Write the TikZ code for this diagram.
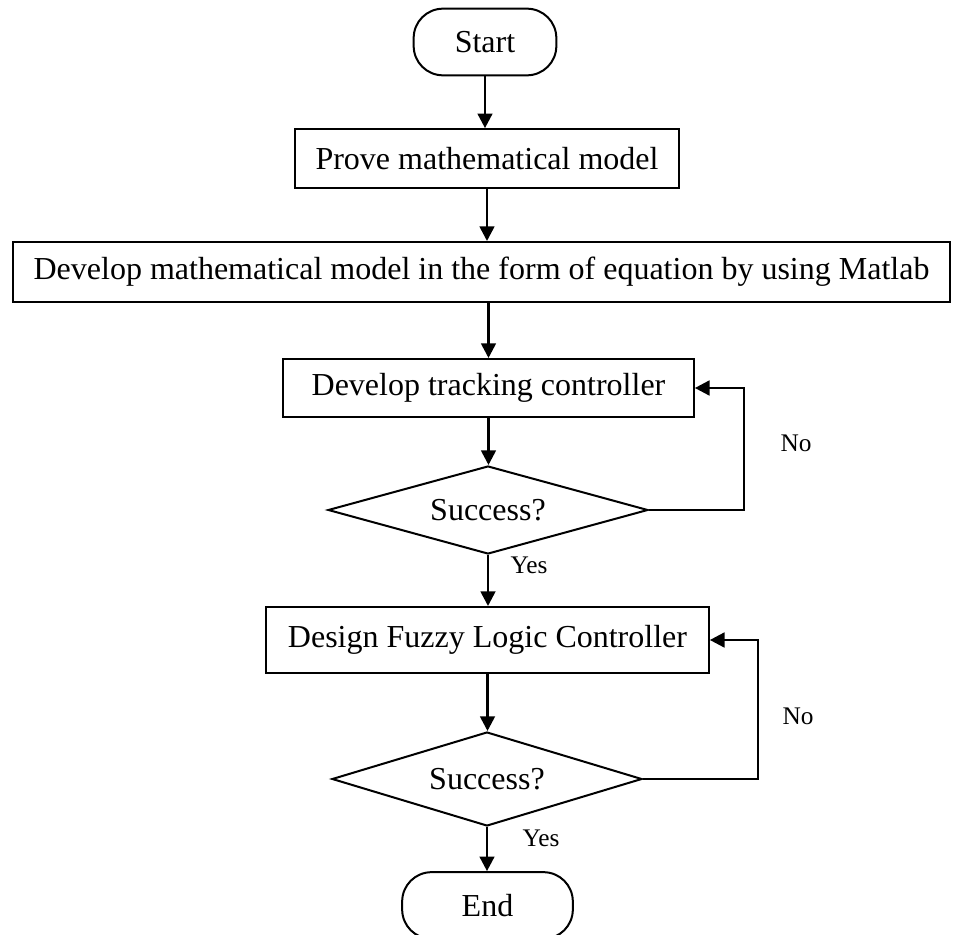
\documentclass[tikz,border=0pt]{standalone}
\usepackage{fontspec}
\setmainfont{Liberation Serif}
\usetikzlibrary{shapes.geometric,arrows.meta}
\begin{document}
\begin{tikzpicture}[x=0.75pt,y=-0.75pt,
    box/.style={draw,line width=1.5pt,inner sep=0pt,font=\fontsize{24}{28}\selectfont},
    term/.style={box,rounded corners=22pt,minimum width=#1,minimum height=50pt},
    decision/.style={box,diamond,aspect=3.5},
    arr/.style={line width=2pt,-{Triangle[length=11pt,width=11pt]}},
    lbl/.style={font=\fontsize{19}{22}\selectfont}]
  \useasboundingbox (0,0) rectangle (958,935);
  % main column
  \node[term=107pt] (start) at (485,42) {Start};
  \node[box,minimum width=288pt,minimum height=44pt] (prove) at (487,158.5) {Prove mathematical model};
  \node[box,minimum width=703pt,minimum height=45pt] (big) at (481.5,272) {Develop mathematical model in the form of equation by using Matlab};
  \node[box,minimum width=308pt,minimum height=43.5pt] (track) at (488.5,388) {Develop tracking controller};
  \node[decision,minimum width=240pt,minimum height=66pt] (dec1) at (488,510) {Success?};
  \node[box,minimum width=332pt,minimum height=49.5pt] (design) at (487.5,640) {Design Fuzzy Logic Controller};
  \node[decision,minimum width=232.5pt,minimum height=70.5pt] (dec2) at (487,779) {Success?};
  \node[term=128pt] (finish) at (487.5,905.5) {End};
  % labels
  \node[lbl,anchor=west] (yes1) at (506,565) {Yes};
  \node[lbl] (no1) at (796,443) {No};
  \node[lbl,anchor=west] (yes2) at (518,838) {Yes};
  \node[lbl] (no2) at (798,716) {No};
  % arrows
  \draw[arr] (start) -- (start |- prove.north);
  \draw[arr] (prove) -- (prove |- big.north);
  \draw[arr] (big.south -| track.north) -- (track.north);
  \draw[arr] (track.south) -- (track.south |- dec1.north);
  \draw[arr] (dec1) -- (dec1 |- design.north);
  \draw[arr] (dec1.east) -- ++(95,0) |- (track.east);
  \draw[arr] (design) -- (design |- dec2.north);
  \draw[arr] (dec2.east) -- ++(115,0) |- (design.east);
  \draw[arr] (dec2) -- (dec2 |- finish.north);
\end{tikzpicture}
\end{document}
